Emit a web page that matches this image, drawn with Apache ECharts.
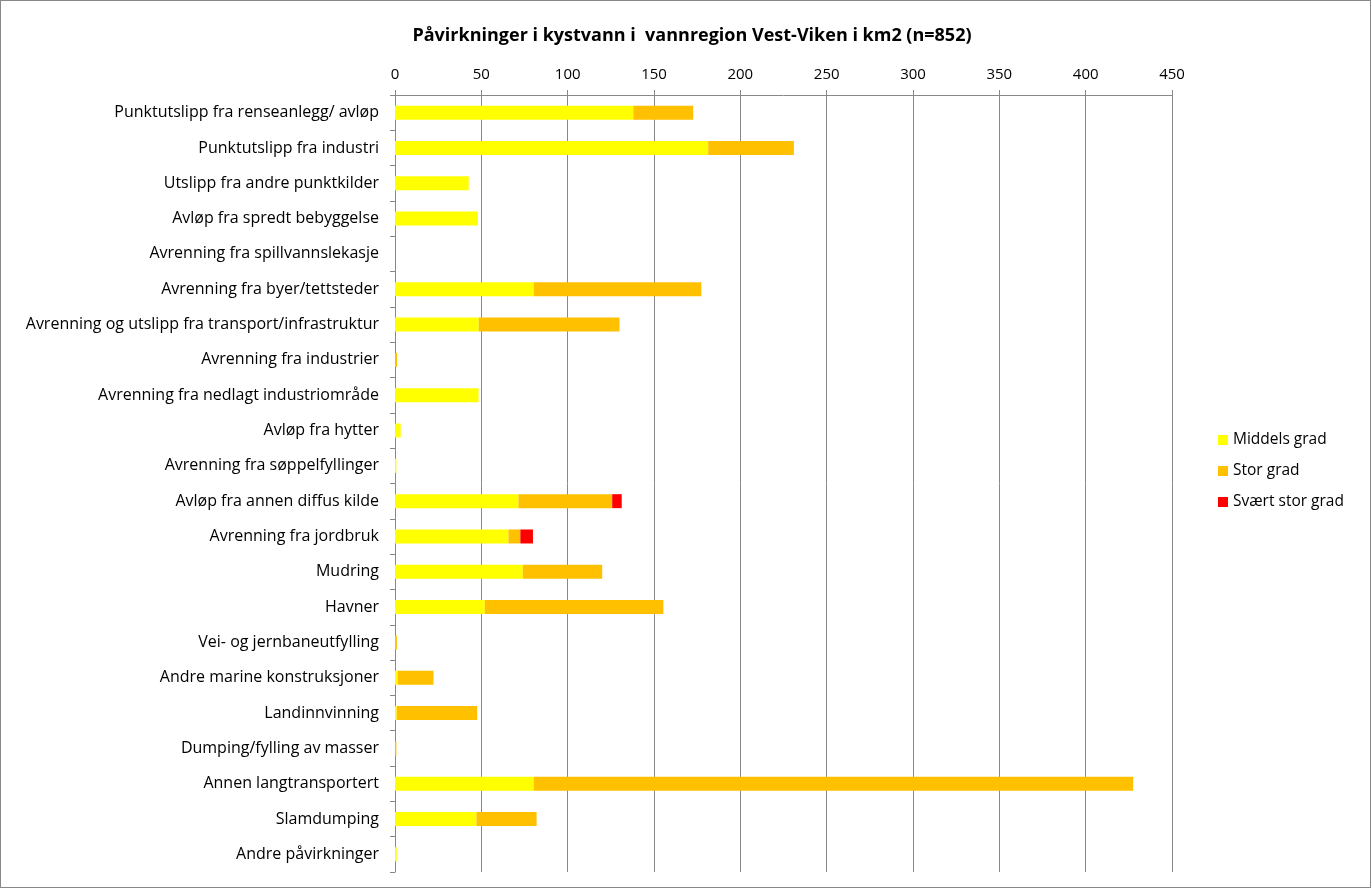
<!DOCTYPE html>
<html><head><meta charset="utf-8">
<script src="https://cdn.jsdelivr.net/npm/echarts@6/dist/echarts.min.js"></script>
<style>
html,body{margin:0;padding:0;background:#fff;}
#c{position:absolute;left:0;top:0;width:1369px;height:886px;border:1px solid #888;}
</style></head>
<body><div id="c"></div>
<script>
const categories = [
 "Punktutslipp fra renseanlegg/ avløp","Punktutslipp fra industri","Utslipp fra andre punktkilder","Avløp fra spredt bebyggelse","Avrenning fra spillvannslekasje","Avrenning fra byer/tettsteder","Avrenning og utslipp fra transport/infrastruktur","Avrenning fra industrier","Avrenning fra nedlagt industriområde","Avløp fra hytter","Avrenning fra søppelfyllinger","Avløp fra annen diffus kilde","Avrenning fra jordbruk","Mudring","Havner","Vei- og jernbaneutfylling","Andre marine konstruksjoner","Landinnvinning","Dumping/fylling av masser","Annen langtransportert","Slamdumping","Andre påvirkninger"
];
const middels = [138,181.4,42.7,48,0,80.3,48.5,0,48.4,3.3,0.8,71.5,65.7,74,52,0,1.5,1,0,80.3,47.2,1];
const stor    = [34.7,49.6,0,0,0,97.1,81.5,1.2,0,0,0,54.3,6.9,46,103.4,1.1,20.8,46.6,0.8,347.2,34.8,0];
const svaert  = [0,0,0,0,0,0,0,0,0,0,0,5.5,7.3,0,0,0,0,0,0,0,0,0];
const seriesNames = ["Middels grad","Stor grad","Svært stor grad"];
const tickMax = 450, tickStep = 50;

const font = "'Open Sans', 'Liberation Sans', Arial, sans-serif";
const chart = echarts.init(document.getElementById('c'));
const colors = ['#FFFF00','#FFC000','#FF0000'];
const data = [middels, stor, svaert];
chart.setOption({
  animation:false,
  title:{text:"Påvirkninger i kystvann i  vannregion Vest-Viken i km2 (n=852)",left:686,textAlign:'center',top:21,
    textStyle:{fontFamily:font,fontSize:18,fontWeight:'bold',color:'#000'}},
  grid:{left:394,right:1371-1173,top:94,bottom:888-873,containLabel:false},
  legend:{orient:'vertical',left:1212,top:426,itemGap:15,itemWidth:10,itemHeight:10,icon:'rect',
    textStyle:{fontFamily:font,fontSize:15.5,color:'#000'},data:seriesNames},
  xAxis:{type:'value',position:'top',min:0,max:tickMax,interval:tickStep,
    axisLine:{show:true,lineStyle:{color:'#888'}},
    axisTick:{show:true,length:5,lineStyle:{color:'#888'}},
    axisLabel:{fontFamily:font,fontSize:15,color:'#000',margin:13},
    splitLine:{show:true,lineStyle:{color:'#888'}}},
  yAxis:{type:'category',inverse:true,data:categories,
    axisLine:{show:true,lineStyle:{color:'#888'}},
    axisTick:{show:true,length:5,lineStyle:{color:'#888'}},
    axisLabel:{fontFamily:font,fontSize:16,color:'#000',margin:16}},
  series: seriesNames.map((n,i)=>({name:n,type:'bar',stack:'a',data:data[i],barWidth:14,
    itemStyle:{color:colors[i]}}))
});
</script></body></html>
